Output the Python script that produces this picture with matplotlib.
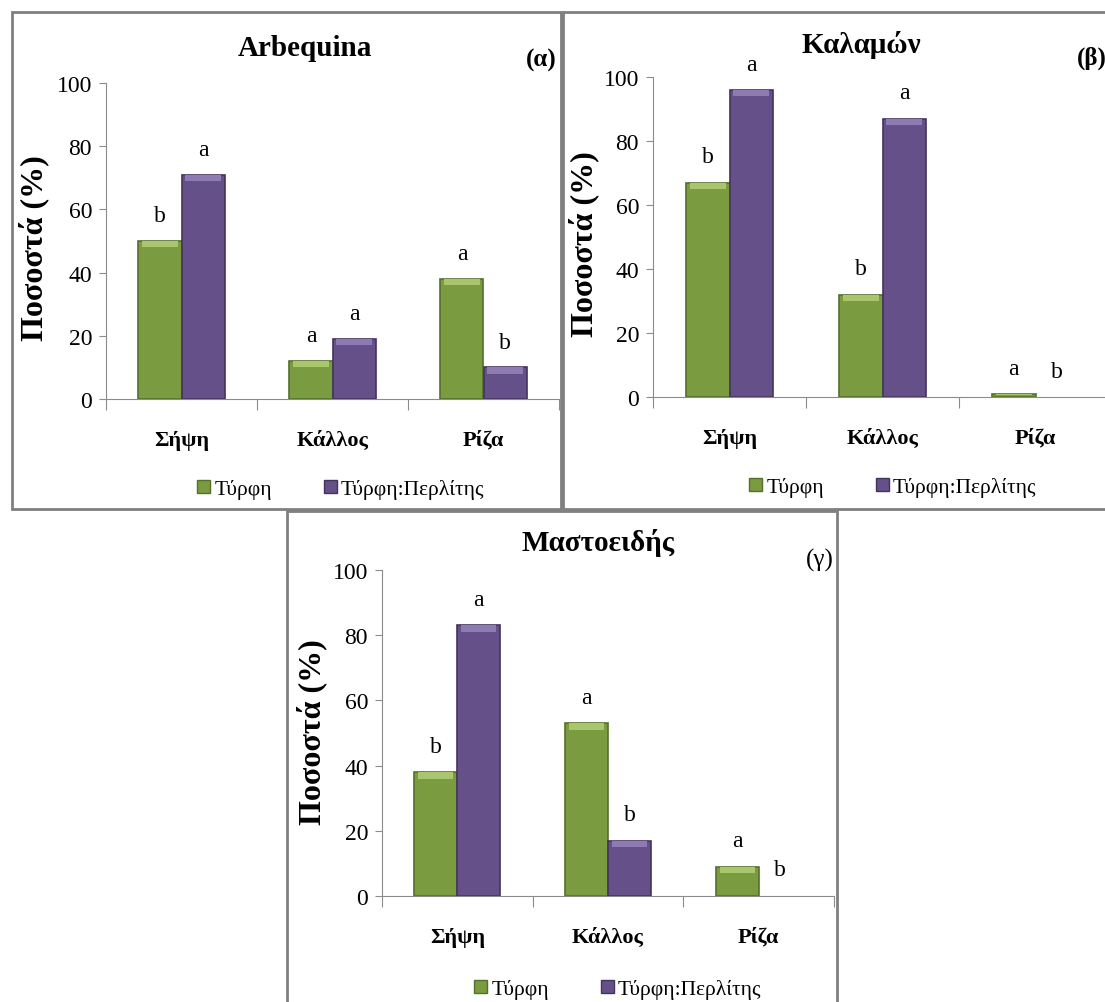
import numpy as np
import matplotlib.pyplot as plt
from matplotlib.patches import Rectangle, Patch

plt.rcParams['font.family'] = ['Liberation Serif', 'DejaVu Serif']

# Data
categories = ['Σήψη', 'Κάλλος', 'Ρίζα']
series_names = ['Τύρφη', 'Τύρφη:Περλίτης']
titles = ['Arbequina', 'Καλαμών', 'Μαστοειδής']
panel_tags = ['(α)', '(β)', '(γ)']

arbequina_peat = [50, 12, 38]
arbequina_perlite = [71, 19, 10]
kalamon_peat = [67, 32, 1]
kalamon_perlite = [96, 87, 0]
mastoeidis_peat = [38, 53, 9]
mastoeidis_perlite = [83, 17, 0]

arbequina_sig_peat = ['b', 'a', 'a']
arbequina_sig_perlite = ['a', 'a', 'b']
kalamon_sig_peat = ['b', 'b', 'a']
kalamon_sig_perlite = ['a', 'a', 'b']
mastoeidis_sig_peat = ['b', 'a', 'a']
mastoeidis_sig_perlite = ['a', 'b', 'b']

yticks = [0, 20, 40, 60, 80, 100]

green = '#7b9b40'
green_light = '#a9c66c'
green_dark = '#55702c'
purple = '#65508a'
purple_light = '#8f7bb3'
purple_dark = '#43345c'

W, H = 1105, 1003


def fx(px):
    return px / W


def fy(py):
    return 1 - py / H


fig = plt.figure(figsize=(W / 100, H / 100), dpi=100)

# layout of the three panels, in pixels
panels = [
    dict(peat=arbequina_peat, perl=arbequina_perlite,
         sp=arbequina_sig_peat, sq=arbequina_sig_perlite,
         ax=(106, 559, 84, 400), border=(12, 561, 13, 510),
         title=(305, 48), tag=(541, 60), tag_bold=True,
         ylab=(34, 248), leg=(341, 490)),
    dict(peat=kalamon_peat, perl=kalamon_perlite,
         sp=kalamon_sig_peat, sq=kalamon_sig_perlite,
         ax=(653, 1112, 78, 398), border=(563, 1112, 13, 510),
         title=(861, 45), tag=(1092, 58), tag_bold=True,
         ylab=(584, 244), leg=(893, 488)),
    dict(peat=mastoeidis_peat, perl=mastoeidis_perlite,
         sp=mastoeidis_sig_peat, sq=mastoeidis_sig_perlite,
         ax=(382, 834, 571, 897), border=(287, 837, 512, 1010),
         title=(598, 543), tag=(820, 560), tag_bold=False,
         ylab=(312, 732), leg=(618, 990)),
]

width = 0.285
x = np.arange(len(categories))

for i, p in enumerate(panels):
    l, r, t, b = p['ax']
    ax = fig.add_axes([fx(l), fy(b), fx(r) - fx(l), fy(t) - fy(b)])

    for vals, sig, off, c, cl, cd in [
        (p['peat'], p['sp'], -width / 2, green, green_light, green_dark),
        (p['perl'], p['sq'], width / 2, purple, purple_light, purple_dark),
    ]:
        vals = np.array(vals, dtype=float)
        lw = np.where(vals > 0, 1.2, 0)
        ax.bar(x + off, vals, width, color=c, edgecolor=cd, linewidth=lw, zorder=2)
        # bevel highlight on top of each bar
        strip = np.minimum(2.0, vals * 0.5)
        ax.bar(x + off, strip, width * 0.82, bottom=vals - strip, color=cl,
               linewidth=0, zorder=3)
        for xi, v, s in zip(x + off, vals, sig):
            ax.text(xi, v + 8, s, ha='center', va='center', fontsize=17)

    ax.set_xlim(-0.5, 2.5)
    ax.set_ylim(0, 100)
    ax.set_yticks(yticks)
    ax.set_xticks([-0.5, 0.5, 1.5, 2.5])
    ax.set_xticklabels([])
    ax.set_xticks(x, minor=True)
    ax.set_xticklabels(categories, minor=True, fontsize=16, fontweight='bold')
    ax.tick_params(axis='x', which='major', length=8, color='#8c8c8c')
    ax.tick_params(axis='x', which='minor', length=0, pad=22)
    ax.tick_params(axis='y', length=5, color='#8c8c8c', labelsize=17, pad=5)
    for s in ['top', 'right']:
        ax.spines[s].set_visible(False)
    for s in ['left', 'bottom']:
        ax.spines[s].set_color('#8c8c8c')
    ax.spines['bottom'].set_zorder(4)

    fig.text(fx(p['title'][0]), fy(p['title'][1]), titles[i], ha='center',
             va='center', fontsize=21, fontweight='bold')
    fig.text(fx(p['tag'][0]), fy(p['tag'][1]), panel_tags[i], ha='center',
             va='center', fontsize=18,
             fontweight='bold' if p['tag_bold'] else 'normal')
    fig.text(fx(p['ylab'][0]), fy(p['ylab'][1]), 'Ποσοστά (%)', rotation=90,
             ha='center', va='center', fontsize=23, fontweight='bold')

    handles = [Patch(facecolor=green, edgecolor=green_dark),
               Patch(facecolor=purple, edgecolor=purple_dark)]
    fig.legend(handles, series_names, loc='center',
               bbox_to_anchor=(fx(p['leg'][0]), fy(p['leg'][1])), ncol=2,
               frameon=False, handlelength=0.6, handleheight=0.6,
               handletextpad=0.2, columnspacing=2.4, fontsize=15.5,
               borderpad=0)

    bl, br, bt, bb = p['border']
    fig.add_artist(Rectangle((fx(bl), fy(bb)), fx(br) - fx(bl), fy(bt) - fy(bb),
                             transform=fig.transFigure, fill=False,
                             edgecolor='#808080', linewidth=2))

fig.savefig('out.png', dpi=100)
